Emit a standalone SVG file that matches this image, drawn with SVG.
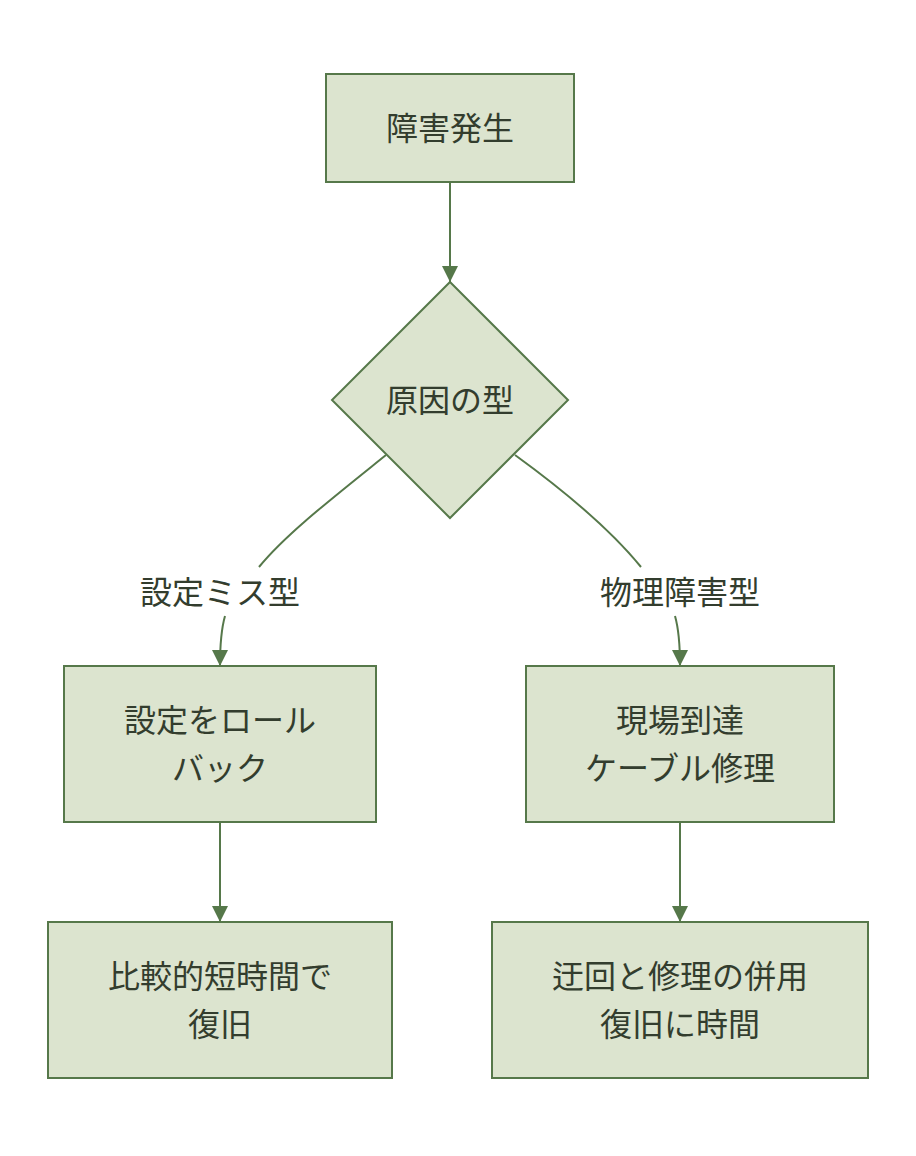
<svg xmlns="http://www.w3.org/2000/svg" width="916" height="1156" viewBox="0 0 916 1156">
<style>
.n{fill:#dce4cf;stroke:#56784a;stroke-width:2}
.e{fill:none;stroke:#56784a;stroke-width:2}
.t{font-family:"Noto Sans CJK JP","Noto Sans",sans-serif;font-size:32px;fill:#333d2e;text-anchor:middle;dominant-baseline:central}
</style>
<defs>
<marker id="ah" viewBox="0 0 16 16" refX="16" refY="8" markerWidth="16" markerHeight="16" markerUnits="userSpaceOnUse" orient="auto">
<path d="M0,0 L16,8 L0,16 Z" fill="#56784a"/>
</marker>
</defs>
<rect width="916" height="1156" fill="#ffffff"/>
<g id="edges">
<path class="e" d="M450,183 L450,282" marker-end="url(#ah)"/>
<path class="e" d="M386,455 C330,500 285,535 259,567"/>
<path class="e" d="M225,616 C221,630 220,645 220,666" marker-end="url(#ah)"/>
<path class="e" d="M515,455 C570,495 615,535 641,567"/>
<path class="e" d="M675,616 C679,630 680,645 680,666" marker-end="url(#ah)"/>
<path class="e" d="M220,823 L220,922" marker-end="url(#ah)"/>
<path class="e" d="M680,823 L680,922" marker-end="url(#ah)"/>
</g>
<g id="lbl1"><text class="t" x="220" y="590">設定ミス型</text></g>
<g id="lbl2"><text class="t" x="680" y="590">物理障害型</text></g>
<g id="n1"><rect class="n" x="326" y="74" width="248" height="108"/><text class="t" x="450" y="126">障害発生</text></g>
<g id="n2"><path class="n" d="M450,282 L568,400 L450,518 L332,400 Z"/><text class="t" x="450" y="398">原因の型</text></g>
<g id="n3"><rect class="n" x="64" y="666" width="312" height="156"/><text class="t" x="220" y="718">設定をロール</text><text class="t" x="220" y="766">バック</text></g>
<g id="n4"><rect class="n" x="526" y="666" width="308" height="156"/><text class="t" x="680" y="718">現場到達</text><text class="t" x="680" y="766">ケーブル修理</text></g>
<g id="n5"><rect class="n" x="48" y="922" width="344" height="156"/><text class="t" x="220" y="974">比較的短時間で</text><text class="t" x="220" y="1022">復旧</text></g>
<g id="n6"><rect class="n" x="492" y="922" width="376" height="156"/><text class="t" x="680" y="974">迂回と修理の併用</text><text class="t" x="680" y="1022">復旧に時間</text></g>
</svg>
